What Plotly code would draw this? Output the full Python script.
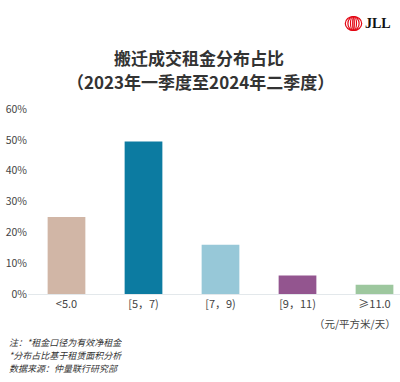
import plotly.graph_objects as go

categories = ["<5.0", "[5，7)", "[7，9)", "[9，11)", "≥11.0"]
shares = [0.25, 0.495, 0.16, 0.06, 0.03]
bar_colors = ["#D1B6A6", "#0C7BA1", "#97C8D8", "#93558F", "#9DC79E"]
y_ticks = [0, 0.1, 0.2, 0.3, 0.4, 0.5, 0.6]
y_tick_labels = ["0%", "10%", "20%", "30%", "40%", "50%", "60%"]
title_lines = ["搬迁成交租金分布占比", "（2023年一季度至2024年二季度）"]
unit_label = "（元/平方米/天）"
notes = ["注：*租金口径为有效净租金", "*分布占比基于租赁面积分析", "数据来源：仲量联行研究部"]

W, H = 400, 382
L, R, T, B = 28, 0, 109, 88
PW, PH = W - L - R, H - T - B

def px(x):
    return (x - L) / PW

def py(y):
    return (H - B - y) / PH

FONT = "Noto Sans CJK SC, Noto Sans, sans-serif"

fig = go.Figure(go.Bar(
    x=list(range(len(categories))), y=shares,
    marker=dict(color=bar_colors, line=dict(width=0)),
    width=0.49,
))

annotations = []
annotations.append(dict(text="<b>" + title_lines[0] + "</b>", x=px(199), y=py(58), xref="paper", yref="paper",
                        showarrow=False, font=dict(size=17, color="#333333", family=FONT), xanchor="center", yanchor="middle"))
annotations.append(dict(text="<b>" + title_lines[1] + "</b>", x=px(200), y=py(82), xref="paper", yref="paper",
                        showarrow=False, font=dict(size=17, color="#333333", family=FONT), xanchor="center", yanchor="middle"))
annotations.append(dict(text=unit_label, x=px(398), y=py(323), xref="paper", yref="paper",
                        showarrow=False, font=dict(size=10.5, color="#444444", family=FONT), xanchor="right", yanchor="middle"))
for i, n in enumerate(notes):
    annotations.append(dict(text="<i>" + n + "</i>", x=px(7), y=py(342 + 12.8 * i), xref="paper", yref="paper",
                            showarrow=False, font=dict(size=9, color="#333333", family=FONT), xanchor="left",
                            yanchor="middle", height=12))
annotations.append(dict(text="<b>JLL</b>", x=px(363), y=py(23.5), xref="paper", yref="paper",
                        showarrow=False, font=dict(size=14, color="#111111", family="Liberation Serif, serif"),
                        xanchor="left", yanchor="middle"))

shapes = []
cx, cy = 353.5, 23.5
for hw in [8.2, 5.6, 3.0, 0.8]:
    shapes.append(dict(type="circle", xref="paper", yref="paper",
                       x0=px(cx - hw), x1=px(cx + hw), y0=py(cy + 7), y1=py(cy - 7),
                       line=dict(color="#E30613", width=1.2)))

fig.update_layout(
    width=W, height=H,
    margin=dict(l=L, r=R, t=T, b=B, autoexpand=False),
    paper_bgcolor="white", plot_bgcolor="white",
    showlegend=False,
    font=dict(family=FONT, size=11, color="#444444"),
    xaxis=dict(tickmode="array", tickvals=list(range(len(categories))), ticktext=categories,
               range=[-0.5, -0.5 + PW / 77], showgrid=False, zeroline=False,
               showline=True, linecolor="#E3E8EB", linewidth=1, ticks="",
               tickfont=dict(size=11, color="#444444"), fixedrange=True),
    yaxis=dict(tickmode="array", tickvals=y_ticks, ticktext=y_tick_labels, range=[0, 0.6],
               showgrid=False, zeroline=False, showline=False, ticks="",
               tickfont=dict(size=10.5, color="#444444"), automargin=False, fixedrange=True),
    annotations=annotations,
    shapes=shapes,
)

fig.write_html("out.html", config={"displayModeBar": False},
               post_script="document.body.style.margin='0';document.body.style.overflow='hidden';")
